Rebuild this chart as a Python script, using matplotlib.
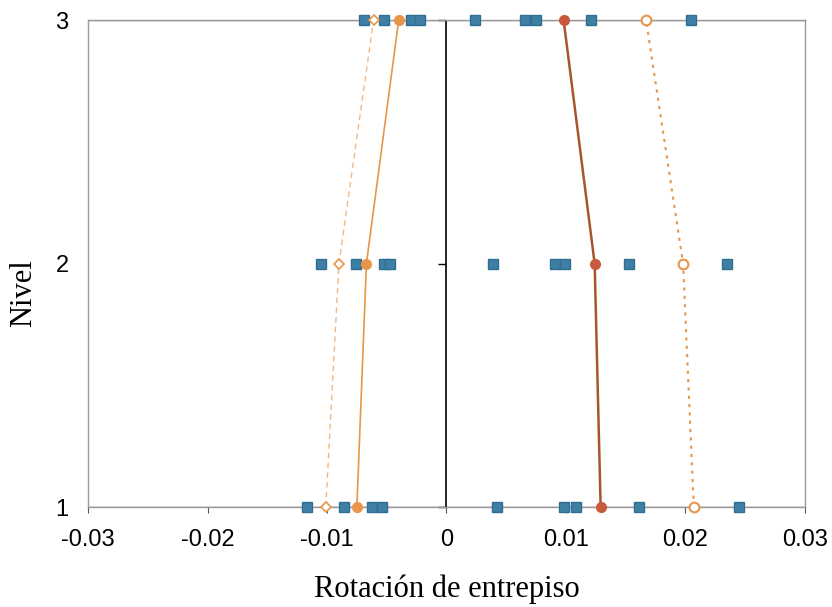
import matplotlib
matplotlib.use("Agg")
import matplotlib.pyplot as plt
from matplotlib.lines import TICKLEFT

levels = [1, 2, 3]

# individual record rotations (squares), per level
rot_lvl1 = [-0.0117, -0.0086, -0.0062, -0.0054, 0.0042, 0.0098, 0.0108, 0.0161, 0.0245]
rot_lvl2 = [-0.0105, -0.0076, -0.0052, -0.0047, 0.0039, 0.0091, 0.0099, 0.0153, 0.0235]
rot_lvl3 = [-0.0069, -0.0052, -0.0030, -0.0022, 0.0024, 0.0066, 0.0075, 0.0121, 0.0205]

# summary curves
pos_mean = [0.0129, 0.0124, 0.0098]
pos_mean_std = [0.0207, 0.0198, 0.0167]
neg_mean = [-0.0075, -0.0067, -0.0040]
neg_mean_std = [-0.0101, -0.0090, -0.0061]

xticks = [-0.03, -0.02, -0.01, 0, 0.01, 0.02, 0.03]
xticklabels = ["-0.03", "-0.02", "-0.01", "0", "0.01", "0.02", "0.03"]

fig = plt.figure(figsize=(8.32, 6.07), dpi=100)
ax = fig.add_axes([0.1058, 0.1647, 0.8617, 0.8023])

blue = "#3f7fa3"
orange = "#e8964a"
red = "#c85a3c"
brown = "#a8552c"

ax.axvline(0, color="black", lw=1.2, zorder=2)
ax.axhline(1, color="#555555", lw=1.0, zorder=1)
ax.axhline(3, color="#888888", lw=1.0, zorder=1)

for lvl, vals in zip(levels, [rot_lvl1, rot_lvl2, rot_lvl3]):
    ax.plot(vals, [lvl] * len(vals), linestyle="none", marker="s", ms=7,
            color=blue, markeredgecolor="#2f6f93", zorder=3, clip_on=False)

ax.plot(pos_mean, levels, color=brown, lw=1.8, marker="o", ms=7,
        markerfacecolor=red, markeredgecolor=red, zorder=4, clip_on=False)
ax.plot(pos_mean_std, levels, color=orange, lw=1.5, linestyle=(0, (1.5, 2.5)),
        marker="o", ms=7, markerfacecolor="white", markeredgecolor=orange,
        markeredgewidth=1.5, zorder=4, clip_on=False)
ax.plot(neg_mean, levels, color=orange, lw=1.2, marker="o", ms=7,
        markerfacecolor=orange, markeredgecolor=orange, zorder=4, clip_on=False)
ax.plot(neg_mean_std, levels, color="#f0b888", lw=1.0, linestyle=(0, (4, 3)),
        marker="D", ms=5, markerfacecolor="white", markeredgecolor=orange,
        markeredgewidth=1.2, zorder=4, clip_on=False)

# tick marks on the zero axis line
ax.plot([0] * len(levels), levels, linestyle="none", marker=TICKLEFT, ms=6,
        color="black", mew=1.0, zorder=2, clip_on=False)

ax.set_xlim(-0.03, 0.03)
ax.set_ylim(1, 3)
ax.set_xticks(xticks)
ax.set_xticklabels(xticklabels)
ax.set_yticks(levels)
ax.set_yticklabels([str(l) for l in levels])
ax.tick_params(axis="y", length=0, pad=14, labelsize=17)
ax.tick_params(axis="x", length=4, direction="out", color="#555555", pad=12, labelsize=17)
for lab in ax.get_xticklabels() + ax.get_yticklabels():
    lab.set_fontfamily("Liberation Sans")

for s in ax.spines.values():
    s.set_color("#999999")
    s.set_linewidth(1.0)

ax.set_xlabel("Rotación de entrepiso", family="Liberation Serif", fontsize=22, labelpad=17)
ax.set_ylabel("Nivel", family="Liberation Serif", fontsize=22)
ax.yaxis.set_label_coords(-0.07, 0.44)

fig.savefig("out.png", dpi=100)
